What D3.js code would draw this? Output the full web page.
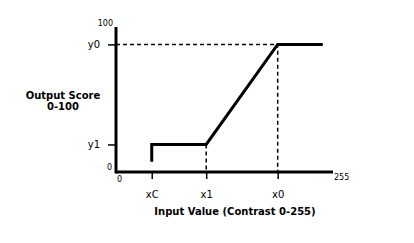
<!DOCTYPE html>
<head>
<meta charset="utf-8">
<style>
body { margin: 0; background: #fff; }
text { font-family: "DejaVu Sans", Verdana, sans-serif; fill: #000; }
.axis .domain { display: none; }
.axis .tick line { stroke: #000; stroke-width: 1.5px; }
.axis .tick text { font-size: 10px; }
.axisline { fill: none; stroke: #000; stroke-width: 3px; }
.curve { fill: none; stroke: #000; stroke-width: 3px; stroke-linejoin: miter; }
.guide { fill: none; stroke: #000; stroke-width: 1.5px; stroke-dasharray: 4,3; }
.small { font-size: 8px; }
.title { font-size: 10px; font-weight: bold; }
</style>
<title>Contrast score</title>
</head>
<body>
<script src="https://cdn.jsdelivr.net/npm/d3@7"></script>
<script>

var width = 414, height = 243;

// curve points (input 0-255, output 0-100)
var curveX = [42, 42, 106, 190, 243];
var curveY = [7, 19, 19, 88, 88];

// named marks on the axes
var xMarkNames = ["xC", "x1", "x0"];
var xMarkVals = [42, 106, 190];
var yMarkNames = ["y1", "y0"];
var yMarkVals = [19, 88];

var xDomain = [0, 255], yDomain = [0, 100];

var svg = d3.select("body").append("svg")
    .attr("width", width)
    .attr("height", height);

var x = d3.scaleLinear().domain(xDomain).range([116, 333]);
var y = d3.scaleLinear().domain(yDomain).range([172, 27]);

// dashed guides
svg.append("path").attr("class", "guide")
    .attr("d", "M" + x(0) + "," + y(yMarkVals[1]) + "H" + x(xMarkVals[2]) + "V" + y(0));
svg.append("path").attr("class", "guide")
    .attr("d", "M" + x(xMarkVals[1]) + "," + y(yMarkVals[0]) + "V" + y(0));

// ticks + names
svg.append("g").attr("class", "axis")
    .attr("transform", "translate(0," + y(0) + ")")
    .call(d3.axisBottom(x).tickValues(xMarkVals)
      .tickFormat(function(d, i) { return xMarkNames[i]; })
      .tickSizeOuter(0).tickSize(7).tickPadding(12));

svg.append("g").attr("class", "axis")
    .attr("transform", "translate(" + x(0) + ",0)")
    .call(d3.axisLeft(y).tickValues(yMarkVals)
      .tickFormat(function(d, i) { return yMarkNames[i]; })
      .tickSizeOuter(0).tickSize(8).tickPadding(8));

// axis lines, meeting in the corner
svg.append("path").attr("class", "axisline")
    .attr("d", "M" + x(0) + "," + y(100) + "V" + (y(0) + 1.5));
svg.append("path").attr("class", "axisline")
    .attr("d", "M" + x(0) + "," + y(0) + "H" + x(255));

// curve
var line = d3.line()
    .x(function(d) { return x(d[0]); })
    .y(function(d) { return y(d[1]); });
svg.append("path").attr("class", "curve")
    .datum(d3.zip(curveX, curveY))
    .attr("d", line);

// end labels
svg.append("text").attr("class", "small").attr("x", x(0) - 3).attr("y", y(100) - 1)
    .attr("text-anchor", "end").text(yDomain[1]);
svg.append("text").attr("class", "small").attr("x", x(0) - 4).attr("y", y(0) - 2)
    .attr("text-anchor", "end").text(yDomain[0]);
svg.append("text").attr("class", "small").attr("x", x(0) + 1).attr("y", y(0) + 10)
    .text(xDomain[0]);
svg.append("text").attr("class", "small").attr("x", x(255) + 1).attr("y", y(0) + 8)
    .text(xDomain[1]);

// titles
svg.append("text").attr("class", "title").attr("x", 235).attr("y", 215)
    .attr("text-anchor", "middle").text("Input Value (Contrast 0-255)");
var yt = svg.append("text").attr("class", "title").attr("text-anchor", "middle");
yt.append("tspan").attr("x", 63).attr("y", 99).text("Output Score");
yt.append("tspan").attr("x", 63).attr("y", 110).text("0-100");

</script>
</body>
